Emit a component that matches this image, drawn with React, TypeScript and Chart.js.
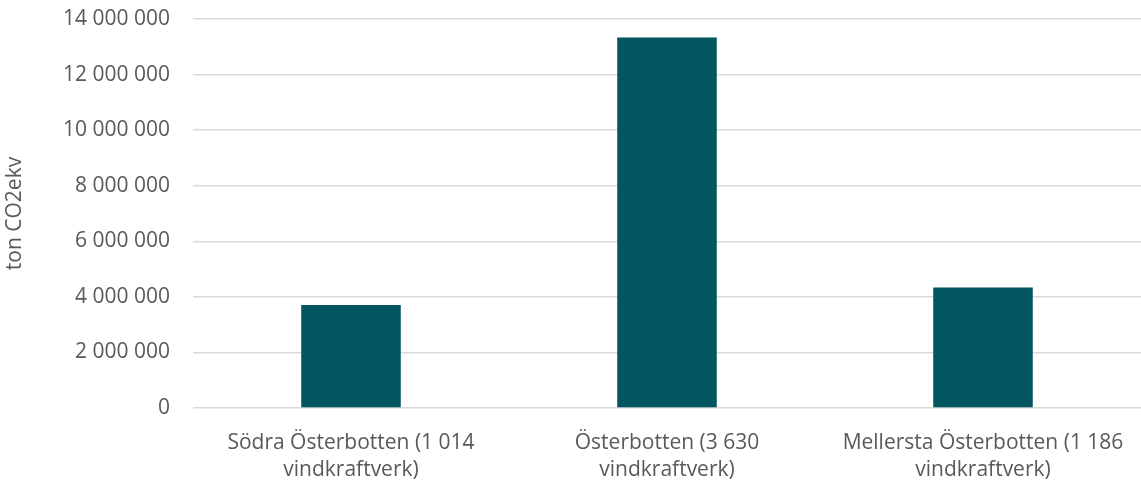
import React, { useEffect, useRef } from "react";
import { Chart, registerables } from "chart.js";

Chart.register(...registerables);

const categories: string[][] = [
  ["Södra Österbotten (1 014", "vindkraftverk)"],
  ["Österbotten (3 630", "vindkraftverk)"],
  ["Mellersta Österbotten (1 186", "vindkraftverk)"],
];
const emissions: number[] = [3710000, 13330000, 4340000];
const yAxisTitle = "ton CO2ekv";
const yMin = 0;
const yMax = 14000000;
const yStep = 2000000;

const FONT = "'Open Sans', 'Liberation Sans', sans-serif";
const TEXT = "#595959";

function fmt(v: number): string {
  return Math.round(v).toString().replace(/\B(?=(\d{3})+(?!\d))/g, " ");
}

export default function App() {
  const ref = useRef<HTMLCanvasElement | null>(null);

  useEffect(() => {
    document.body.style.margin = "0";
    const canvas = ref.current;
    if (!canvas) return;
    const chart = new Chart(canvas, {
      type: "bar",
      data: {
        labels: categories,
        datasets: [
          {
            data: emissions,
            backgroundColor: "#02565f",
            borderWidth: 0,
            barPercentage: 0.315,
            categoryPercentage: 1,
          },
        ],
      },
      options: {
        animation: false,
        responsive: false,
        maintainAspectRatio: false,
        layout: { padding: { top: 19, right: 0, left: 0, bottom: 0 } },
        plugins: {
          legend: { display: false },
          tooltip: { enabled: false },
          title: { display: false },
        },
        scales: {
          x: {
            grid: { display: false, drawTicks: false },
            border: { display: false },
            ticks: {
              color: TEXT,
              font: { family: FONT, size: 21, lineHeight: 1.29 },
              padding: 21,
              autoSkip: false,
              maxRotation: 0,
              minRotation: 0,
            },
            afterFit: (scale: any) => {
              scale.height = 75;
              scale.paddingTop = 0;
              scale.paddingBottom = 0;
              scale.paddingLeft = 0;
              scale.paddingRight = 0;
            },
          },
          y: {
            min: yMin,
            max: yMax,
            grid: { color: "#d9d9d9", lineWidth: 1.5, drawTicks: false },
            border: { display: false },
            ticks: {
              stepSize: yStep,
              color: TEXT,
              font: { family: FONT, size: 21 },
              padding: 23,
              callback: (v: any) => fmt(Number(v)),
            },
            title: {
              display: true,
              text: yAxisTitle,
              color: TEXT,
              font: { family: FONT, size: 21 },
              padding: { top: 2, bottom: 2 },
            },
            afterFit: (scale: any) => {
              scale.width = 193;
              scale.paddingTop = 0;
              scale.paddingBottom = 0;
            },
          },
        },
      },
    });
    return () => chart.destroy();
  }, []);

  return (
    <div style={{ width: 1141, height: 483 }}>
      <canvas ref={ref} width={1141} height={483} style={{ display: "block" }} />
    </div>
  );
}
